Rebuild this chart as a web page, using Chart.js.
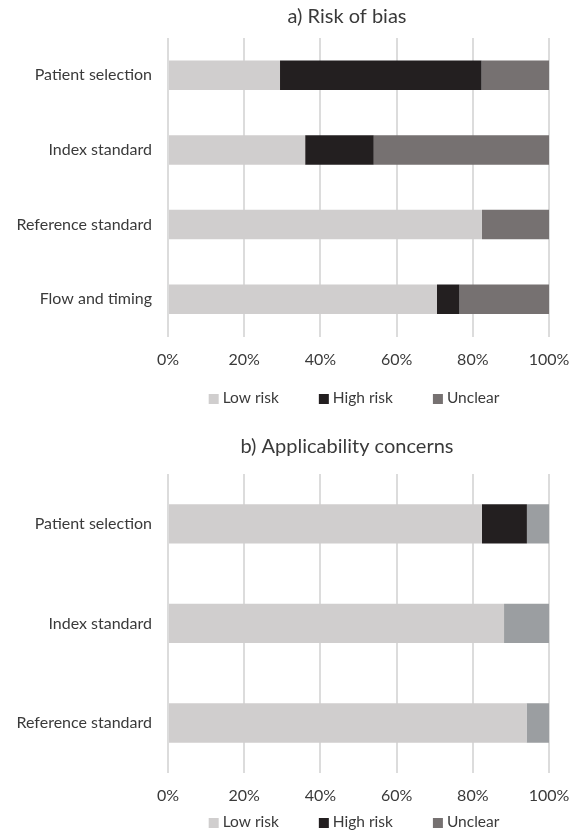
<!DOCTYPE html>
<html>
<head>
<meta charset="utf-8">
<script src="https://cdn.jsdelivr.net/npm/chart.js@4/dist/chart.umd.min.js"></script>
<style>
  html, body { margin: 0; padding: 0; background: #ffffff; }
  #wrap { position: relative; width: 578px; height: 831px; }
  canvas { position: absolute; left: 0; }
  #biasChart { top: 0; }
  #applicChart { top: 420px; }
</style>
</head>
<body>
<div id="wrap">
  <canvas id="biasChart" width="578" height="420"></canvas>
  <canvas id="applicChart" width="578" height="411"></canvas>
</div>
<script>
// QUADAS-2 summary: share of studies (%) per judgement
const seriesNames = ['Low risk', 'High risk', 'Unclear'];
const tickValues = [0, 20, 40, 60, 80, 100];

const biasDomains = ['Patient selection', 'Index standard', 'Reference standard', 'Flow and timing'];
const biasLow = [29.4, 36.0, 82.4, 70.6];
const biasHigh = [52.9, 18.0, 0, 5.9];
const biasUnclear = [17.7, 46.0, 17.6, 23.5];

const applicDomains = ['Patient selection', 'Index standard', 'Reference standard'];
const applicLow = [82.4, 88.2, 94.1];
const applicHigh = [11.8, 0, 0];
const applicUnclear = [5.8, 11.8, 5.9];

const FONT = 'Lato, "Open Sans", sans-serif';
const TEXT = '#3a3a3a';
const GRID = '#dcdcdc';

// Moves the title block sideways by a fixed amount after layout
const titleShift = {
  id: 'titleShift',
  afterLayout(chart, args, opts) {
    const t = chart.titleBlock;
    if (t) { t.left += opts.dx; t.right += opts.dx; }
  }
};

// Single-row legend with square swatches, drawn under the axis
const rowLegend = {
  id: 'rowLegend',
  afterDraw(chart, args, opts) {
    const ctx = chart.ctx;
    ctx.save();
    ctx.font = opts.size + 'px ' + FONT;
    ctx.textBaseline = 'middle';
    ctx.textAlign = 'left';
    const labels = chart.data.datasets.map(d => d.label);
    const widths = labels.map(t => opts.box + opts.boxGap + ctx.measureText(t).width);
    const total = widths.reduce((a, b) => a + b, 0) + opts.itemGap * (labels.length - 1);
    let x = opts.centerX - total / 2;
    labels.forEach((t, i) => {
      ctx.fillStyle = opts.colors[i];
      ctx.fillRect(x, opts.y - opts.box / 2 + 1, opts.box, opts.box);
      ctx.fillStyle = TEXT;
      ctx.fillText(t, x + opts.box + opts.boxGap, opts.y);
      x += widths[i] + opts.itemGap;
    });
    ctx.restore();
  }
};

function makeChart(id, cfg) {
  const datasets = [cfg.low, cfg.high, cfg.unclear].map((vals, i) => ({
    label: seriesNames[i],
    data: vals,
    backgroundColor: cfg.barColors[i],
    borderWidth: 0,
    barPercentage: 0.395,
    categoryPercentage: 1.0
  }));
  return new Chart(document.getElementById(id), {
    type: 'bar',
    data: { labels: cfg.domains, datasets },
    plugins: [titleShift, rowLegend],
    options: {
      indexAxis: 'y',
      responsive: false,
      animation: false,
      devicePixelRatio: 1,
      layout: { padding: { left: 0, right: 29, top: 0, bottom: 0 } },
      scales: {
        x: {
          stacked: true,
          min: 0,
          max: 100,
          afterBuildTicks: s => { s.ticks = tickValues.map(v => ({ value: v })); },
          afterFit: s => { s.height = cfg.xHeight; s.paddingRight = 0; s.paddingLeft = 0; },
          ticks: {
            padding: 13.5,
            color: TEXT,
            font: { family: FONT, size: 16 },
            callback: v => v + '%'
          },
          grid: { color: GRID, lineWidth: 2, drawTicks: false },
          border: { display: false }
        },
        y: {
          stacked: true,
          afterFit: s => { s.width = 168; },
          ticks: {
            padding: 16,
            color: TEXT,
            font: { family: FONT, size: 16 }
          },
          grid: { display: false, drawTicks: false },
          border: { display: false }
        }
      },
      plugins: {
        legend: { display: false },
        tooltip: { enabled: false },
        title: {
          display: true,
          fullSize: false,
          text: cfg.title,
          color: TEXT,
          font: { family: FONT, size: 20, weight: 'normal', lineHeight: 1.2 },
          padding: cfg.titlePad
        },
        titleShift: { dx: -11.5 },
        rowLegend: {
          colors: cfg.legendColors,
          size: 15.5,
          box: 10,
          boxGap: 4,
          itemGap: 40,
          centerX: 354,
          y: cfg.legendY
        }
      }
    }
  });
}

makeChart('biasChart', {
  title: 'a) Risk of bias',
  domains: biasDomains,
  low: biasLow, high: biasHigh, unclear: biasUnclear,
  barColors: ['#d0cece', '#231f20', '#767171'],
  legendColors: ['#d0cece', '#231f20', '#767171'],
  titlePad: { top: 5, bottom: 9 },
  xHeight: 83.5,
  legendY: 398
});

makeChart('applicChart', {
  title: 'b) Applicability concerns',
  domains: applicDomains,
  low: applicLow, high: applicHigh, unclear: applicUnclear,
  barColors: ['#d0cece', '#231f20', '#9b9ea1'],
  legendColors: ['#d0cece', '#231f20', '#767171'],
  titlePad: { top: 15, bottom: 15 },
  xHeight: 58.2,
  legendY: 402
});
</script>
</body>
</html>
